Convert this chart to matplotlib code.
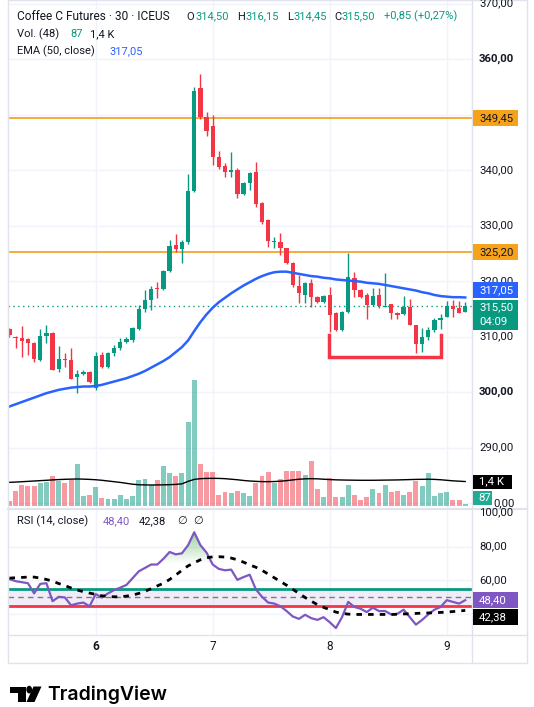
import numpy as np
import matplotlib.pyplot as plt
from matplotlib.patches import Rectangle, Polygon, Circle
from matplotlib.colors import to_rgb

plt.rcParams['font.family'] = ['Roboto', 'DejaVu Sans']

W, H = 534, 707

# ---- data (30 min bars, index 0..74) ----
opens = [311.3, 310.0, 309.7, 309.5, 308.9, 305.8, 310.1, 310.6, 304.1, 305.9,
         305.8, 302.7, 303.3, 303.6, 300.7, 306.7, 304.6, 307.0, 307.9, 309.1,
         309.3, 311.3, 314.9, 316.6, 318.6, 318.6, 321.8, 326.5, 325.7, 327.1,
         336.3, 354.8, 349.5, 348.0, 342.3, 340.8, 339.6, 340.0, 335.7, 337.7,
         339.6, 334.0, 331.0, 327.0, 327.1, 325.9, 323.2, 319.1, 317.5, 319.6,
         317.2, 316.3, 317.5, 314.2, 311.2, 314.5, 320.5, 318.4, 317.5, 315.7,
         317.5, 315.4, 315.9, 314.3, 314.1, 315.3, 312.1, 308.7, 309.9, 311.2,
         312.9, 313.6, 315.5, 315.1, 314.50]
highs = [311.5, 310.1, 311.9, 309.7, 309.0, 311.3, 312.1, 310.8, 308.3, 307.0,
         307.9, 304.0, 303.9, 303.8, 307.3, 307.3, 307.3, 308.5, 309.7, 310.0,
         311.8, 315.7, 318.4, 319.1, 319.9, 322.0, 327.4, 328.5, 327.4, 339.3,
         354.9, 357.3, 350.4, 349.9, 343.5, 341.2, 343.3, 340.3, 337.9, 339.7,
         341.5, 334.3, 331.2, 328.0, 328.6, 326.0, 323.4, 321.1, 319.8, 320.3,
         317.4, 317.5, 319.0, 314.4, 314.7, 325.0, 321.7, 318.6, 317.8, 318.7,
         318.7, 321.5, 315.9, 314.4, 317.3, 316.7, 312.1, 311.5, 311.7, 313.3,
         314.1, 316.4, 316.6, 316.4, 316.15]
lows = [309.9, 307.9, 306.3, 306.7, 305.5, 305.6, 308.8, 304.0, 303.7, 304.5,
        302.4, 299.9, 303.0, 301.7, 300.4, 304.3, 304.3, 306.5, 307.6, 308.8,
        309.1, 311.1, 314.5, 314.8, 316.9, 318.4, 321.7, 325.3, 323.2, 326.7,
        336.0, 349.2, 346.2, 340.9, 340.2, 338.7, 338.7, 334.9, 335.5, 336.4,
        333.4, 330.3, 326.2, 325.9, 324.7, 323.0, 319.0, 316.0, 316.0, 315.3,
        316.1, 316.1, 310.9, 311.0, 311.0, 314.2, 317.2, 316.9, 313.1, 315.5,
        315.2, 315.3, 313.1, 313.2, 313.9, 312.1, 307.1, 307.3, 309.3, 310.9,
        311.3, 313.5, 313.5, 314.3, 314.45]
closes = [310.2, 309.8, 309.2, 308.9, 306.0, 310.1, 310.6, 304.0, 306.0, 305.8,
          302.4, 303.3, 303.7, 301.9, 306.5, 304.5, 307.0, 307.9, 309.0, 309.6,
          311.6, 315.0, 316.6, 318.6, 318.5, 321.8, 326.3, 325.7, 327.1, 336.2,
          354.3, 349.5, 347.1, 342.3, 340.5, 339.6, 340.0, 335.7, 337.6, 339.4,
          333.9, 330.7, 327.2, 327.2, 325.9, 323.2, 319.3, 317.8, 319.6, 317.2,
          316.3, 317.3, 313.9, 311.2, 314.5, 320.7, 318.4, 317.1, 315.7, 317.3,
          315.5, 315.6, 314.2, 313.9, 315.3, 312.1, 308.7, 309.9, 311.2, 312.9,
          313.4, 315.5, 314.9, 314.3, 315.50]
volumes = [280, 860, 1180, 1120, 1120, 1270, 1360, 1680, 1400, 1310,
           1460, 2350, 580, 620, 1080, 430, 390, 390, 620, 370,
           560, 1460, 1510, 1180, 1460, 2240, 1830, 1680, 1830, 4720,
           7060, 2350, 1900, 1900, 620, 780, 730, 840, 750, 560,
           1310, 1680, 1900, 1310, 1490, 1960, 1960, 1960, 1740, 2520,
           950, 490, 1550, 490, 490, 1180, 620, 340, 490, 930,
           750, 1180, 770, 840, 620, 770, 1420, 1120, 1830, 560,
           750, 800, 340, 340, 87]
vol_ma = [1325, 1340, 1360, 1380, 1400, 1420, 1440, 1460, 1480, 1495,
          1505, 1512, 1505, 1490, 1470, 1440, 1400, 1360, 1320, 1270,
          1220, 1190, 1180, 1176, 1180, 1185, 1195, 1210, 1240, 1380,
          1490, 1530, 1545, 1549, 1545, 1530, 1500, 1470, 1430, 1400,
          1380, 1365, 1363, 1370, 1390, 1420, 1460, 1500, 1520, 1530,
          1520, 1500, 1480, 1465, 1456, 1450, 1445, 1440, 1440, 1440,
          1445, 1450, 1455, 1460, 1470, 1480, 1490, 1495, 1500, 1490,
          1470, 1440, 1410, 1390, 1370]
ema50 = [297.4, 297.8, 298.2, 298.6, 299.0, 299.4, 299.8, 300.1, 300.4, 300.6,
         300.8, 300.9, 301.0, 301.0, 301.1, 301.3, 301.6, 301.9, 302.2, 302.5,
         302.9, 303.3, 303.8, 304.4, 305.0, 305.6, 306.3, 307.2, 308.1, 309.3,
         311.0, 312.6, 314.0, 315.2, 316.2, 317.0, 317.8, 318.5, 319.2, 319.8,
         320.4, 320.9, 321.3, 321.6, 321.7, 321.7, 321.5, 321.3, 321.1, 320.9,
         320.8, 320.6, 320.5, 320.3, 320.2, 320.1, 320.0, 319.9, 319.7, 319.6,
         319.5, 319.3, 319.1, 318.9, 318.7, 318.5, 318.3, 318.0, 317.8, 317.5,
         317.3, 317.2, 317.1, 317.1, 317.05]
rsi = [60.8, 59.6, 59.0, 58.4, 52.4, 58.0, 58.4, 47.8, 50.4, 50.0,
       45.4, 46.4, 47.0, 44.8, 52.0, 50.0, 52.4, 54.4, 55.8, 57.4,
       61.4, 65.4, 67.4, 69.4, 69.4, 72.8, 76.8, 75.4, 76.0, 80.8,
       88.4, 80.8, 76.4, 69.4, 66.8, 66.0, 66.4, 60.4, 62.0, 63.4,
       54.8, 50.4, 47.0, 46.4, 44.8, 42.0, 38.8, 37.4, 39.8, 37.8,
       36.8, 38.4, 35.4, 32.0, 38.4, 47.4, 44.4, 43.4, 41.4, 44.0,
       42.0, 42.0, 40.0, 40.4, 42.8, 38.4, 34.0, 36.8, 40.0, 42.8,
       44.4, 48.4, 47.4, 46.4, 48.40]
rsi_ma = [61.4, 61.6, 61.8, 62.0, 62.0, 61.4, 60.6, 59.6, 58.2, 57.0,
          55.6, 54.4, 53.4, 52.6, 51.8, 51.0, 50.6, 50.4, 50.4, 50.8,
          51.4, 52.4, 53.6, 55.2, 56.8, 58.4, 60.6, 63.2, 66.0, 68.6,
          70.4, 72.2, 73.4, 73.9, 74.0, 73.8, 73.2, 72.2, 70.8, 69.2,
          67.8, 66.0, 63.8, 61.6, 59.4, 57.2, 54.8, 52.4, 50.0, 47.8,
          45.8, 44.2, 42.8, 41.4, 40.6, 40.2, 40.0, 40.0, 40.0, 40.0,
          40.0, 40.0, 40.0, 40.1, 40.3, 40.4, 40.6, 40.8, 40.9, 41.0,
          41.2, 41.4, 41.7, 42.0, 42.38]

day_labels = ['6', '7', '8', '9']
day_bars = [14, 33, 52, 71]
price_ticks = [290, 300, 310, 320, 330, 340, 360, 370]
h_levels = [349.45, 325.20]
bracket_x = [51.9, 51.9, 70.0, 70.0]
bracket_y = [310.3, 306.4, 306.4, 310.3]

UP, DN = '#089981', '#f23645'
GRID = '#f0f3fa'
TXT = '#131722'

fig = plt.figure(figsize=(W / 100, H / 100), dpi=100)


def rect(x0, y0, x1, y1):
    return [x0 / W, 1 - y1 / H, (x1 - x0) / W, (y1 - y0) / H]


ax_vol = fig.add_axes(rect(8, 0, 472, 508))
ax = fig.add_axes(rect(8, 0, 472, 508), sharex=ax_vol)
ax_rsi = fig.add_axes(rect(8, 509, 472, 635), sharex=ax_vol)
for a in (ax_vol, ax, ax_rsi):
    a.set_axis_off()

x = np.arange(len(closes))
o, h, l, c = map(np.array, (opens, highs, lows, closes))
up = c >= o
cols = np.where(up, UP, DN)

XL = (-0.24, 75.1)
ax.set_xlim(*XL)
ax.set_ylim(279.1, 370.67)
ax_vol.set_ylim(-112, 28336)
ax_rsi.set_ylim(27.9, 102.1)

# grid (behind volume)
ax_vol.hlines(price_ticks + [280, 350], XL[0], XL[1], color=GRID, lw=1,
              transform=ax.transData, zorder=0)
ax_vol.vlines(day_bars, -112, 28336, color=GRID, lw=1, zorder=0)

# volume
vcols = [(8/255, 153/255, 129/255, 0.5) if u else (242/255, 54/255, 69/255, 0.5) for u in up]
ax_vol.bar(x, volumes, width=0.8, color=vcols, zorder=2)
ax_vol.plot(x, vol_ma, color='#000000', lw=1, zorder=3)

# candles
ax.vlines(x, l, h, color=cols, lw=1, zorder=3)
ax.bar(x, np.maximum(np.abs(c - o), 0.18), bottom=np.minimum(o, c), width=0.7,
       color=cols, zorder=4)
ax.plot(x, ema50, color='#2962ff', lw=1.8, zorder=5)
for lv in h_levels:
    ax.axhline(lv, color='#f59d1a', lw=1.2, zorder=2)
ax.axhline(closes[-1], color=UP, lw=1, ls=(0, (1, 2.5)), zorder=2)
ax.plot(bracket_x, bracket_y, color=DN, lw=2.5, zorder=6, solid_joinstyle='miter')

# RSI pane
for lv in [40, 60, 80]:
    ax_rsi.axhline(lv, color=GRID, lw=1, zorder=0)
for b in day_bars:
    ax_rsi.axvline(b, color=GRID, lw=1, zorder=0)
ax_rsi.axhspan(45, 55, color='#7e57c2', alpha=0.1, lw=0, zorder=1)
ax_rsi.axhline(55, color=UP, lw=2, zorder=2)
ax_rsi.axhline(45, color=DN, lw=2, zorder=2)
ax_rsi.axhline(50, color='#787b86', lw=1, ls=(0, (4, 3)), zorder=2)
rv = np.array(rsi)
fb = ax_rsi.fill_between(x, 70, rv, where=rv > 70, interpolate=True, color='none', lw=0)
grad = np.zeros((100, 1, 4))
grad[:, 0, :3] = to_rgb('#4caf50')
grad[:, 0, 3] = np.linspace(0.0, 0.75, 100)
im = ax_rsi.imshow(grad, extent=[XL[0], XL[1], 70, 95], origin='lower',
                   aspect='auto', zorder=2)
im.set_clip_path(fb.get_paths()[0], transform=ax_rsi.transData)
ax_rsi.plot(x, rsi, color='#7e57c2', lw=1.6, zorder=4)
ax_rsi.plot(x, rsi_ma, color='#000000', lw=2, ls=(0, (2, 2.2)), zorder=4)
ax_rsi.set_xlim(*XL)
ax_rsi.set_ylim(27.9, 102.1)


def py(a, v):
    return H - a.transData.transform((0, v))[1]


def px(a, v):
    return a.transData.transform((v, 0))[0]


def ftext(xp, yp, s, **kw):
    kw.setdefault('color', TXT)
    kw.setdefault('fontsize', 8)
    return fig.text(xp / W, 1 - yp / H, s, **kw)


def box(yc, hh, fc, x0=473, x1=518):
    fig.add_artist(Rectangle((x0 / W, 1 - (yc + hh / 2) / H), (x1 - x0) / W, hh / H,
                             transform=fig.transFigure, facecolor=fc,
                             edgecolor='none', zorder=5))


# frame and separators
fig.add_artist(Rectangle((8 / W, 1 - 663 / H), 519 / W, 663 / H, transform=fig.transFigure,
                         facecolor='none', edgecolor='#e0e3eb', lw=1, zorder=1))
fig.add_artist(plt.Line2D([8 / W, 527 / W], [1 - 508.5 / H] * 2, color='#e0e3eb', lw=1.5, zorder=1))
fig.add_artist(plt.Line2D([8 / W, 527 / W], [1 - 635 / H] * 2, color='#e0e3eb', lw=1, zorder=1))
fig.add_artist(plt.Line2D([472 / W] * 2, [1 - 663 / H, 1], color='#e0e3eb', lw=1, zorder=1))

# price axis labels
for v in price_ticks:
    ftext(479, py(ax, v), f"{v},00", va='center', fontsize=8.2,
          weight='bold' if v in (360, 300) else 'normal')
# the 280 label is mostly covered by the volume label; only its tail shows
ftext(515, py(ax, 280), '0,00', ha='right', va='center', fontsize=8.2)
for v, s in zip(h_levels, ['349,45', '325,20']):
    yc = py(ax, v)
    box(yc, 16, '#f7a21b')
    ftext(479, yc, s, va='center', fontsize=8.2, zorder=6)
yc = py(ax, ema50[-1]) - 7
box(yc, 16, '#2962ff')
ftext(479, yc, '317,05', va='center', fontsize=8.2, color='white', zorder=6)
yt = py(ax, closes[-1]) - 6.3
box(yt + 15, 30, UP)
ftext(479, yt + 7.5, '315,50', va='center', fontsize=8.2, color='white', zorder=6)
ftext(479, yt + 22, '04:09', va='center', fontsize=8.2, color='white', zorder=6)
yc = py(ax_vol, vol_ma[-1])
box(yc, 14, '#000000', x1=512)
ftext(479, yc, '1,4 K', va='center', fontsize=8.2, color='white', zorder=6)
box(yc + 16, 14, '#22ab94', x1=492)
ftext(478, yc + 16, '87', va='center', fontsize=8.2, color='white', zorder=6)

for v in [100, 80, 60]:
    ftext(479, py(ax_rsi, v), f"{v},00", va='center', fontsize=8.2)
yc = py(ax_rsi, rsi[-1])
box(yc, 16, '#7e57c2')
ftext(479, yc, '48,40', va='center', fontsize=8.2, color='white', zorder=6)
box(yc + 17, 16, '#000000')
ftext(479, yc + 17, '42,38', va='center', fontsize=8.2, color='white', zorder=6)

# time axis
for b, s in zip(day_bars, day_labels):
    ftext(px(ax_rsi, b), 647, s, ha='center', va='center', fontsize=8.5,
          weight='bold' if s == '6' else 'normal')

# legends
ftext(17, 16.5, 'Coffee C Futures · 30 · ICEUS', va='center', fontsize=8.6)
for xp, s, col in [(186, 'O', TXT), (195, '314,50', UP), (237, 'H', TXT), (245, '316,15', UP),
                   (287, 'L', TXT), (293, '314,45', UP), (334, 'C', TXT), (342, '315,50', UP),
                   (384, '+0,85 (+0,27%)', UP)]:
    ftext(xp, 16.5, s, va='center', color=col)
ftext(17, 34, 'Vol. (48)', va='center')
ftext(70, 34, '87', va='center', color=UP)
ftext(90, 34, '1,4 K', va='center')
ftext(17, 51.5, 'EMA (50, close)', va='center')
ftext(109, 51.5, '317,05', va='center', color='#2962ff')
ftext(17, 521.5, 'RSI (14, close)', va='center')
ftext(103, 521.5, '48,40', va='center', color='#7e57c2')
ftext(139, 521.5, '42,38', va='center')
ftext(177, 521.5, '∅', va='center')
ftext(193, 521.5, '∅', va='center')


# TradingView mark
def fp(xp, yp):
    return (xp / W, 1 - yp / H)


logo = dict(transform=fig.transFigure, facecolor='#000000', edgecolor='none', zorder=5)
fig.add_artist(Polygon([fp(10.3, 686.5), fp(25.7, 686.5), fp(25.7, 702), fp(17.5, 702),
                        fp(17.5, 693), fp(10.3, 693)], **logo))
fig.add_artist(Polygon([fp(33.5, 686.5), fp(41.5, 686.5), fp(34.5, 702), fp(26.5, 702)], **logo))
fig.add_artist(Circle(fp(29.2, 689.6), 2.9 / W, **logo))
ftext(47, 694.5, 'TradingView', va='center', fontsize=14, weight='semibold',
      family=['Inter', 'DejaVu Sans'], color='#000000')

fig.savefig('out.png', dpi=100, facecolor='white')
